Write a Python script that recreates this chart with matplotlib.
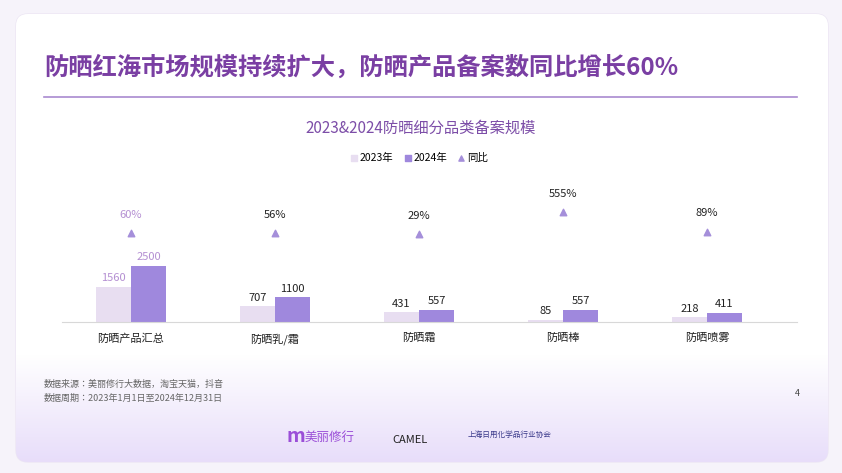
import numpy as np
import matplotlib.pyplot as plt
from matplotlib.patches import FancyBboxPatch

plt.rcParams['font.family'] = ['Noto Sans CJK SC', 'Noto Sans CJK JP', 'Noto Sans CJK TC',
                               'Noto Sans CJK KR', 'DejaVu Sans']
plt.rcParams['axes.unicode_minus'] = False

categories = ['防晒产品汇总', '防晒乳/霜', '防晒霜', '防晒棒', '防晒喷雾']
v2023 = [1560, 707, 431, 85, 218]
v2024 = [2500, 1100, 557, 557, 411]
yoy = [60, 56, 29, 555, 89]
yoy_labels = ['60%', '56%', '29%', '555%', '89%']

W, H = 842, 473
fig = plt.figure(figsize=(W / 100, H / 100), dpi=100)
fig.patch.set_facecolor('#f6f3fa')

# background card with lavender gradient at the bottom
bg = fig.add_axes([0, 0, 1, 1])
bg.set_xlim(0, W)
bg.set_ylim(H, 0)
bg.axis('off')
grad = np.ones((H, 1, 3))
t = np.clip((np.arange(H) - 360) / 110, 0, 1)
for c, (top, bot) in enumerate(zip((1, 1, 1), (0.91, 0.87, 0.98))):
    grad[:, 0, c] = top + (bot - top) * t
bg.add_patch(FancyBboxPatch((16, 14), 812, 448, boxstyle='round,pad=0,rounding_size=12',
                            facecolor='white', edgecolor='#ece6f4', lw=1))
im = bg.imshow(grad, extent=(16, 828, 462, 14), aspect='auto', zorder=1)
im.set_clip_path(bg.patches[0])

bg.text(44, 68, '防晒红海市场规模持续扩大，防晒产品备案数同比增长60%', fontsize=17.5,
        fontweight='bold', color='#7a3fa3', va='center', zorder=3)
bg.plot([44, 797], [97, 97], color='#a98ad0', lw=1.2, zorder=3)
bg.text(421, 128, '2023&2024防晒细分品类备案规模', fontsize=11, color='#7d4ea8',
        ha='center', va='center', zorder=3)
bg.text(44, 384, '数据来源：美丽修行大数据，淘宝天猫，抖音', fontsize=6.5, color='#666666', zorder=3, va='center')
bg.text(44, 398, '数据周期：2023年1月1日至2024年12月31日', fontsize=6.5, color='#666666', zorder=3, va='center')
bg.text(795, 393, '4', fontsize=6.5, color='#444444', zorder=3, va='center')
bg.text(287, 436, 'm', fontsize=14, fontweight='bold', color='#9b4fd8', zorder=3, va='center')
bg.text(305, 437, '美丽修行', fontsize=9, color='#9b4fd8', zorder=3, va='center')
bg.text(392, 440, 'CAMEL', fontsize=8, color='#222222', zorder=3, va='center')
bg.text(468, 435, '上海日用化学品行业协会', fontsize=5.5, color='#3a3a8a', zorder=3, va='center')

# main chart
ax = fig.add_axes([62 / W, (H - 322) / H, (797 - 62) / W, 142 / H])
ax.set_facecolor('none')
x = np.arange(len(categories))
bw = 0.243
c23, c24, ctri = '#e8def1', '#9f88dd', '#a58fda'
ax.bar(x - bw / 2, v2023, bw, color=c23, zorder=2)
ax.bar(x + bw / 2, v2024, bw, color=c24, zorder=2)
ax.set_xlim(-0.479, 4.625)
ax.set_ylim(0, 6339)
for s in ['top', 'right', 'left']:
    ax.spines[s].set_visible(False)
ax.spines['bottom'].set_color('#d8d8d8')
ax.set_yticks([])
ax.set_xticks(x)
ax.set_xticklabels(categories, fontsize=8, color='#222222')
ax.tick_params(axis='x', length=0, pad=8)
for i in range(len(categories)):
    col = '#b48fd2' if i == 0 else '#222222'
    ax.text(x[i] - bw / 2, v2023[i] + 250, str(v2023[i]), ha='center', fontsize=8, color=col)
    ax.text(x[i] + bw / 2, v2024[i] + 250, str(v2024[i]), ha='center', fontsize=8, color=col)

ax2 = ax.twinx()
ax2.set_ylim(-2039, 1308)
ax2.axis('off')
ax2.scatter(x, yoy, marker='^', s=22, color=ctri, zorder=3)
for i, lab in enumerate(yoy_labels):
    col = '#b48fd2' if i == 0 else '#222222'
    ax2.text(x[i], yoy[i] + 360, lab, ha='center', fontsize=8, color=col)

# legend
leg_y = 158
bg.scatter([354], [leg_y], marker='s', s=22, color=c23, zorder=3)
bg.text(360, leg_y, '2023年', fontsize=7.5, va='center', zorder=3)
bg.scatter([408], [leg_y], marker='s', s=22, color=c24, zorder=3)
bg.text(414, leg_y, '2024年', fontsize=7.5, va='center', zorder=3)
bg.scatter([461], [leg_y], marker='^', s=14, color=ctri, zorder=3)
bg.text(467, leg_y, '同比', fontsize=7.5, va='center', zorder=3)

plt.savefig('out.png', dpi=100)
